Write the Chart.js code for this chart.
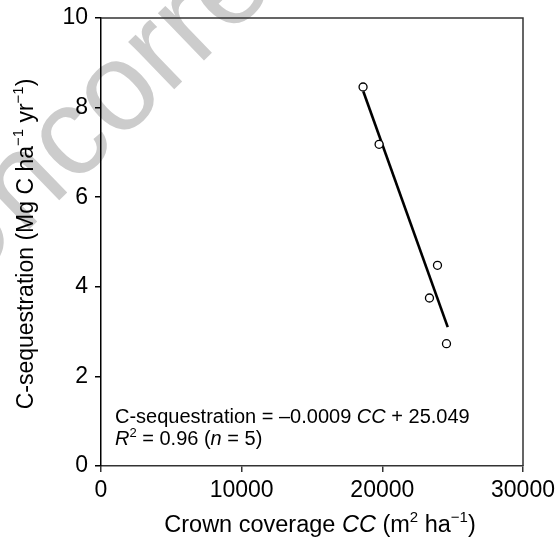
<!DOCTYPE html>
<html>
<head>
<meta charset="utf-8">
<script src="https://cdn.jsdelivr.net/npm/chart.js@4.4.1/dist/chart.umd.min.js"></script>
<style>
  html, body { margin:0; padding:0; background:#fff; }
  #wrap { width:558px; height:541px; position:relative; }
</style>
</head>
<body>
<div id="wrap"><canvas id="chart" width="558" height="541"></canvas></div>
<script>
// crown coverage (m2/ha) vs carbon sequestration (Mg C/ha/yr)
const crownCover = [18630, 19770, 23920, 23350, 24560];
const cSeq = [8.46, 7.18, 4.48, 3.75, 2.73];
// fitted line, drawn between the smallest and largest sampled cover
const fitX = [18650, 24650];
const fitY = [8.36, 3.10];
const xTicks = [0, 10000, 20000, 30000];
const yTicks = [0, 2, 4, 6, 8, 10];

const FONT = '"Liberation Sans", Arial, sans-serif';

// draws a run of segments, some italic, some raised/smaller
function richText(ctx, segs, x, y, size, align){
  const fontOf = s => (s.i?'italic ':'') + (s.sup? Math.round(size*0.64) : size) + 'px ' + FONT;
  const widths = segs.map(s=>{ ctx.font = fontOf(s); return ctx.measureText(s.t).width; });
  const total = widths.reduce((a,b)=>a+b,0);
  let cx = align==='center' ? x - total/2 : x;
  segs.forEach((s,k)=>{
    ctx.font = fontOf(s);
    ctx.fillText(s.t, cx, s.sup ? y - size*0.42 : y);
    cx += widths[k];
  });
}

const watermark = {
  id:'watermark',
  beforeDraw(chart){
    const ctx = chart.ctx;
    ctx.save();
    ctx.translate(-42, 298);
    ctx.rotate(-44*Math.PI/180);
    ctx.fillStyle = '#cccccc';
    ctx.font = '125px ' + FONT;
    ctx.textBaseline = 'alphabetic';
    ctx.fillText('Uncorrected', 0, 0);
    ctx.restore();
  }
};

const frameAndText = {
  id:'frameAndText',
  afterDraw(chart){
    const ctx = chart.ctx, a = chart.chartArea;
    ctx.save();
    // top and right edges of the frame
    ctx.strokeStyle = '#333';
    ctx.lineWidth = 1.5;
    ctx.beginPath();
    ctx.moveTo(a.left, a.top); ctx.lineTo(a.right, a.top); ctx.lineTo(a.right, a.bottom);
    ctx.stroke();

    ctx.fillStyle = '#000';
    ctx.textBaseline = 'alphabetic';
    // regression equation
    richText(ctx, [{t:'C-sequestration = \u20130.0009 '},{t:'CC',i:true},{t:' + 25.049'}], a.left+14, a.bottom-43, 20);
    richText(ctx, [{t:'R',i:true},{t:'2',sup:true},{t:' = 0.96 ('},{t:'n',i:true},{t:' = 5)'}], a.left+14, a.bottom-21, 20);

    // x axis title
    richText(ctx, [{t:'Crown coverage '},{t:'CC',i:true},{t:' (m'},{t:'2',sup:true},{t:' ha'},{t:'\u22121',sup:true},{t:')'}],
      (a.left+a.right)/2 + 8, 532, 23.5, 'center');

    // y axis title
    ctx.translate(33, (a.top+a.bottom)/2 + 2);
    ctx.rotate(-Math.PI/2);
    richText(ctx, [{t:'C-sequestration (Mg C ha'},{t:'\u22121',sup:true},{t:' yr'},{t:'\u22121',sup:true},{t:')'}], 0, 0, 23, 'center');
    ctx.restore();
  }
};

new Chart(document.getElementById('chart'), {
  type:'scatter',
  data:{
    datasets:[
      {
        label:'fit',
        data: fitX.map((x,i)=>({x, y:fitY[i]})),
        showLine:true,
        borderColor:'#000',
        borderWidth:2.6,
        pointRadius:0,
        order:2
      },
      {
        label:'plots',
        data: crownCover.map((x,i)=>({x, y:cSeq[i]})),
        pointRadius:4,
        pointBorderWidth:1.3,
        pointBorderColor:'#000',
        pointBackgroundColor:'#fff',
        order:1
      }
    ]
  },
  options:{
    responsive:false,
    animation:false,
    devicePixelRatio:1,
    layout:{ padding:{ top:18, right:35, bottom:0, left:0 } },
    plugins:{ legend:{display:false}, tooltip:{enabled:false} },
    scales:{
      x:{
        type:'linear', min:0, max:30000,
        afterBuildTicks(s){ s.ticks = xTicks.map(v=>({value:v})); },
        afterFit(s){ s.height = 75; s.paddingLeft = 0; s.paddingRight = 0; },
        grid:{ drawOnChartArea:false, drawTicks:true, tickLength:6, color:'#333', lineWidth:1.5 },
        border:{ display:true, color:'#333', width:1.5 },
        ticks:{ color:'#000', padding:5, maxRotation:0, font:{ family:FONT, size:23 }, callback:v=>String(v) }
      },
      y:{
        type:'linear', min:0, max:10,
        afterBuildTicks(s){ s.ticks = yTicks.map(v=>({value:v})); },
        afterFit(s){ s.width = 101; s.paddingTop = 0; s.paddingBottom = 0; },
        grid:{ drawOnChartArea:false, drawTicks:true, tickLength:6, color:'#000', lineWidth:1.5 },
        border:{ display:true, color:'#000', width:1.5 },
        ticks:{ color:'#000', padding:7, font:{ family:FONT, size:23 }, callback:v=>String(v) }
      }
    }
  },
  plugins:[watermark, frameAndText]
});
</script>
</body>
</html>
